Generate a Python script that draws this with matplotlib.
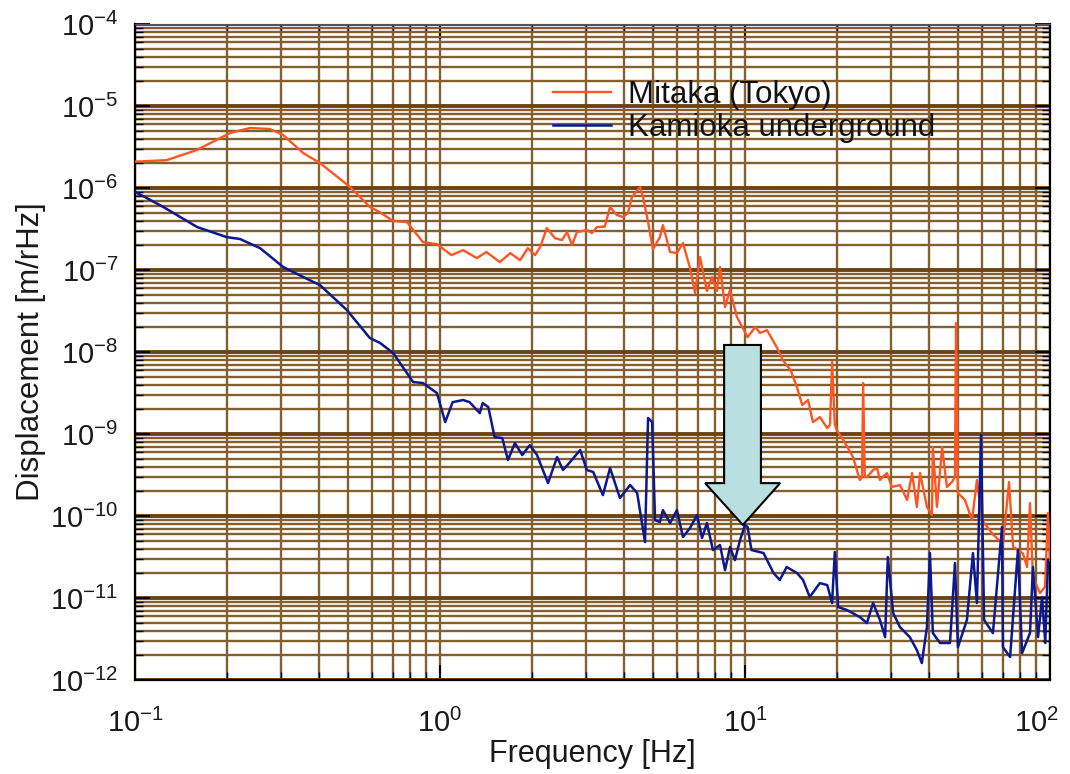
import numpy as np
import matplotlib
matplotlib.use('Agg')
import matplotlib.pyplot as plt
import matplotlib.transforms as mtransforms
from matplotlib.patches import Polygon
from matplotlib.ticker import LogLocator, NullFormatter

plt.rcParams['font.family'] = ['Liberation Sans', 'DejaVu Sans']
plt.rcParams['axes.unicode_minus'] = False

# Mitaka (Tokyo) displacement spectrum
mitaka_freq = [
    0.1, 0.127, 0.159, 0.205, 0.238, 0.277, 0.306, 0.356, 0.404, 0.507,
    0.589, 0.635, 0.701, 0.779, 0.879, 0.977, 1.09, 1.19, 1.32, 1.42,
    1.57, 1.70, 1.83, 1.94, 2.05, 2.13, 2.24, 2.38, 2.51, 2.61,
    2.71, 2.81, 3.03, 3.15, 3.27, 3.47, 3.61, 3.80, 3.98, 4.13,
    4.26, 4.53, 4.63, 4.81, 4.99, 5.26, 5.38, 5.68, 5.98, 6.26,
    6.60, 6.86, 7.12, 7.50, 7.79, 8.09, 8.28, 8.60, 8.93, 9.41,
    10.2, 10.8, 11.2, 11.8, 12.7, 13.3, 14.1, 14.8, 15.4, 16.1,
    16.7, 17.6, 18.6, 19.0, 19.3, 19.7, 20.0, 21.0, 22.6, 23.8,
    24.2, 24.4, 24.7, 25.1, 26.3, 27.1, 27.7, 28.3, 29.2, 30.3,
    32.2, 34.0, 35.3, 36.6, 37.5, 39.5, 41.0, 41.3, 42.6, 44.3,
    45.9, 47.7, 48.8, 49.2, 49.9, 52.6, 55.5, 57.6, 59.8, 65.0,
    70.1, 73.4, 75.7, 81.5, 84.1, 86.0, 87.9, 92.7, 96.3, 98.5,
    100.0,
]
mitaka_disp = [
    2.1e-6, 2.19e-6, 2.9e-6, 4.69e-6, 5.4e-6, 5.25e-6, 4.43e-6, 2.67e-6, 2.02e-6, 1.03e-6,
    5.86e-7, 5.09e-7, 3.96e-7, 3.85e-7, 2.19e-7, 2.07e-7, 1.52e-7, 1.75e-7, 1.40e-7, 1.66e-7,
    1.25e-7, 1.61e-7, 1.32e-7, 1.85e-7, 1.52e-7, 1.91e-7, 3.25e-7, 2.45e-7, 2.32e-7, 2.9e-7,
    2.02e-7, 2.9e-7, 3.07e-7, 2.83e-7, 3.34e-7, 3.4e-7, 5.86e-7, 4.69e-7, 4.43e-7, 4.95e-7,
    7.77e-7, 1.03e-6, 7.77e-7, 3.85e-7, 1.8e-7, 2.52e-7, 3.54e-7, 1.66e-7, 1.61e-7, 2.13e-7,
    1.06e-7, 5.25e-8, 1.44e-7, 5.55e-8, 8.22e-8, 5.55e-8, 1.09e-7, 3.54e-8, 5.7e-8, 2.67e-8,
    1.52e-8, 2.02e-8, 1.71e-8, 1.85e-8, 1.15e-8, 7.98e-9, 6.03e-9, 3.74e-9, 2.26e-9, 2.6e-9,
    1.4e-9, 1.61e-9, 1.18e-9, 1.3e-9, 7.55e-9, 1.3e-9, 1.12e-9, 8.45e-10, 5.25e-10, 2.75e-10,
    3.0e-10, 4.19e-9, 3.0e-10, 2.99e-10, 3.64e-10, 3.85e-10, 2.75e-10, 2.99e-10, 3.34e-10, 2.26e-10,
    2.39e-10, 1.57e-10, 3.34e-10, 1.29e-10, 3.34e-10, 1.29e-10, 1.03e-10, 6.93e-10, 1.29e-10, 6.93e-10,
    2.26e-10, 2.6e-10, 3.0e-10, 2.26e-8, 1.91e-10, 1.57e-10, 8.93e-11, 2.75e-10, 8.93e-11, 6.0e-11,
    4.5e-11, 2.6e-10, 4.2e-11, 3.5e-11, 2.39e-11, 1.44e-10, 1.8e-11, 1.15e-11, 1.36e-11, 1.09e-10,
    2.9e-11,
]

# Kamioka underground displacement spectrum
kamioka_freq = [
    0.1, 0.124, 0.160, 0.200, 0.221, 0.257, 0.306, 0.356, 0.404, 0.495,
    0.589, 0.636, 0.702, 0.816, 0.879, 0.977, 1.04, 1.10, 1.19, 1.25,
    1.35, 1.38, 1.44, 1.51, 1.60, 1.67, 1.76, 1.86, 1.97, 2.08,
    2.26, 2.42, 2.53, 2.67, 2.88, 3.03, 3.18, 3.42, 3.61, 3.89,
    4.20, 4.43, 4.70, 4.81, 4.96, 5.07, 5.26, 5.38, 5.68, 5.98,
    6.26, 6.60, 6.96, 7.23, 7.50, 7.85, 8.28, 8.60, 8.93, 9.27,
    9.63, 10.0, 10.2, 10.5, 11.5, 12.4, 13.0, 13.7, 14.8, 15.5,
    16.3, 17.6, 18.6, 19.3, 19.7, 20.2, 21.6, 23.8, 25.1, 26.3,
    27.7, 28.8, 29.4, 30.6, 32.2, 34.7, 36.6, 38.0, 39.5, 40.4,
    41.3, 43.6, 47.0, 48.8, 49.9, 53.4, 55.9, 57.6, 59.4, 60.8,
    65.0, 69.6, 70.1, 74.0, 78.5, 81.0, 86.0, 87.9, 91.4, 94.2,
    96.5, 98.5,
]
kamioka_disp = [
    9.0e-7, 5.86e-7, 3.34e-7, 2.52e-7, 2.39e-7, 1.85e-7, 1.09e-7, 8.22e-8, 6.56e-8, 3.25e-8,
    1.48e-8, 1.29e-8, 9.73e-9, 4.31e-9, 4.19e-9, 3.16e-9, 1.4e-9, 2.45e-9, 2.6e-9, 2.45e-9,
    1.8e-9, 2.39e-9, 2.13e-9, 9.19e-10, 8.93e-10, 4.82e-10, 7.77e-10, 5.55e-10, 7.34e-10, 5.55e-10,
    2.52e-10, 5.25e-10, 3.64e-10, 4.56e-10, 6.38e-10, 3.64e-10, 3.44e-10, 1.8e-10, 3.85e-10, 1.66e-10,
    2.39e-10, 1.91e-10, 4.82e-11, 1.57e-9, 1.4e-9, 8.93e-11, 8.45e-11, 1.18e-10, 8.22e-11, 1.18e-10,
    5.55e-11, 7.14e-11, 1.03e-10, 5.4e-11, 8.22e-11, 3.85e-11, 4.43e-11, 2.19e-11, 4.19e-11, 2.9e-11,
    5.09e-11, 7.77e-11, 7.34e-11, 3.85e-11, 3.54e-11, 2.02e-11, 1.66e-11, 2.39e-11, 2.02e-11, 1.66e-11,
    1.03e-11, 1.52e-11, 1.44e-11, 8.69e-12, 3.64e-11, 7.77e-12, 7.14e-12, 5.86e-12, 4.95e-12, 8.69e-12,
    5.4e-12, 3.34e-12, 3.16e-11, 6.56e-12, 4.43e-12, 3.34e-12, 2.32e-12, 1.61e-12, 4.43e-12, 3.54e-11,
    3.74e-12, 2.83e-12, 2.83e-12, 2.67e-11, 2.52e-12, 5.4e-12, 3.54e-11, 8.69e-12, 9.73e-10, 5.4e-12,
    3.74e-12, 7.34e-11, 2.52e-12, 1.91e-12, 3.85e-11, 2.13e-12, 3.74e-12, 2.39e-11, 3.34e-12, 1.03e-11,
    2.83e-12, 2.9e-11,
]

series_labels = ['Mitaka (Tokyo)', 'Kamioka underground']

# arrow pointing at the 10 Hz region
arrow_tip = (9.84, 7.8e-11)
arrow_top = 1.22e-8
arrow_head_base = 2.52e-10

fig = plt.figure(figsize=(10.7, 7.74), dpi=100)
ax = fig.add_axes([0.1262, 0.1214, 0.8551, 0.8475])
ax.set_xscale('log')
ax.set_yscale('log')
ax.set_xlim(0.1, 100)
ax.set_ylim(1e-12, 1e-4)

for axis in (ax.xaxis, ax.yaxis):
    axis.set_major_locator(LogLocator(base=10, numticks=20))
    axis.set_minor_locator(LogLocator(base=10, subs=np.arange(2, 10), numticks=20))
    axis.set_minor_formatter(NullFormatter())

brown = '#85602f'
ax.grid(which='major', axis='y', color='#6b4414', lw=2.8)
ax.grid(which='minor', axis='y', color=brown, lw=1.7)
ax.grid(which='both', axis='x', color=brown, lw=1.7)
ax.set_axisbelow(True)

ax.plot(mitaka_freq, mitaka_disp, color='#ff5522', lw=1.7, label=series_labels[0], zorder=3)
ax.plot(kamioka_freq, kamioka_disp, color='#0c1890', lw=1.8, label=series_labels[1], zorder=3)

# block arrow
fx, fy = arrow_tip
shaft_l, shaft_r = fx * 0.868, fx * 1.146
head_l, head_r = fx * 0.752, fx * 1.325
verts = [(shaft_l, arrow_top), (shaft_r, arrow_top), (shaft_r, arrow_head_base),
         (head_r, arrow_head_base), (fx, fy), (head_l, arrow_head_base),
         (shaft_l, arrow_head_base)]
ax.add_patch(Polygon(verts, closed=True, facecolor='#b9dfe1', edgecolor='black',
                     lw=1.5, zorder=4))

ax.tick_params(which='both', direction='in', top=True, right=True,
               color='black', labelsize=21, labelcolor='#1a1a1a')
ax.tick_params(which='major', length=11, width=1.3)
ax.tick_params(which='minor', length=6, width=1.0)
ax.tick_params(axis='x', which='major', pad=21)
ax.tick_params(axis='y', which='major', pad=12)
for side in ('left', 'bottom', 'right'):
    ax.spines[side].set_linewidth(1.6)
ax.spines['top'].set_color('#555555')

ax.set_xlabel('Frequency [Hz]', fontsize=22, color='#1a1a1a')
ax.set_ylabel('Displacement [m/rHz]', fontsize=22.5, color='#1a1a1a')
ax.xaxis.set_label_coords(0.5, -0.09)
ax.yaxis.set_label_coords(-0.097, 0.5)

leg = ax.legend(loc='upper left', bbox_to_anchor=(0.457, 0.915), frameon=False,
                fontsize=22.5, handlelength=1.85, handletextpad=0.55, labelspacing=0.1,
                borderaxespad=0, borderpad=0)
for t in leg.get_texts():
    t.set_color('#111111')

# keep the 10^2 tick label inside the figure
fig.canvas.draw()
for tick in ax.xaxis.get_major_ticks():
    if np.isclose(tick.get_loc(), 100.0):
        lab = tick.label1
        lab.set_transform(lab.get_transform() +
                          mtransforms.ScaledTranslation(-10 / 72, 0, fig.dpi_scale_trans))

fig.savefig('out.png', dpi=100)
